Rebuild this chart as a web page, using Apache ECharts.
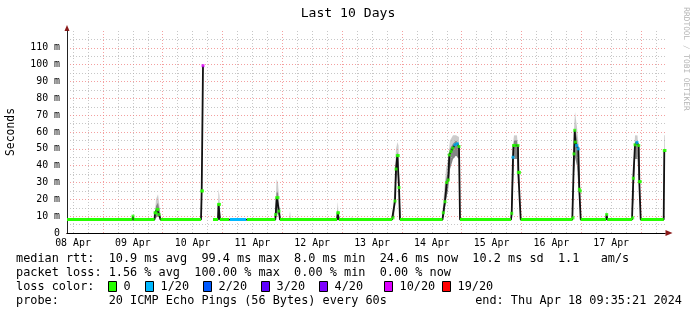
<!DOCTYPE html>
<html><head><meta charset="utf-8">
<script src="https://cdn.jsdelivr.net/npm/echarts@6/dist/echarts.min.js"></script>
<style>html,body{margin:0;padding:0;background:#fff}#c{width:697px;height:315px}</style>
</head><body><div id="c"></div>
<script>
// ---- data (time = hours since 08 Apr 2024 00:00) ----
const startHour = 9.589;   // 08 Apr 09:35:21
const endHour = 249.589;   // 18 Apr 09:35:21
const xTickHours = [12, 36, 60, 84, 108, 132, 156, 180, 204, 228];
const xTickLabels = ['08 Apr', '09 Apr', '10 Apr', '11 Apr', '12 Apr', '13 Apr', '14 Apr', '15 Apr', '16 Apr', '17 Apr'];
const yTickValues = [0, 10, 20, 30, 40, 50, 60, 70, 80, 90, 100, 110];
const yTickLabels = ['0', '10 m', '20 m', '30 m', '40 m', '50 m', '60 m', '70 m', '80 m', '90 m', '100 m', '110 m'];
const floorMs = 8.0;

const medianHours = [9.59, 35.88, 36.08, 36.28, 44.71, 44.91, 45.31, 45.71, 46.11, 46.51, 47.11,
  63.37, 63.65, 63.97, 64.17, 64.5, 68.18, 70.19, 70.39, 70.79, 70.99, 74.61, 75.01, 81.43, 81.83,
  93.19, 93.35, 93.75, 94.27, 94.67, 95.07, 117.95, 118.23, 118.55, 118.75,
  140.02, 140.43, 141.23, 141.63, 142.15, 142.55, 142.83, 143.24,
  160.29, 160.61, 161.30, 161.98, 162.62, 163.02, 163.70, 164.39, 165.31, 166.23, 166.91, 167.32,
  187.78, 188.07, 188.59, 188.79, 189.39, 190.59, 190.71, 191.20, 191.68,
  212.39, 212.67, 213.07, 213.35, 213.59, 214.15, 214.79, 215.20, 215.60, 215.76,
  225.91, 226.19, 226.43,
  236.35, 236.63, 236.87, 237.55, 238.35, 239.04, 239.28, 239.68, 239.84,
  249.07, 249.31, 249.59];
const medianMs = [8, 8, 10, 8, 8, 12, 12, 14, 14, 11, 8,
  8, 25, 25, 99.4, null, 8, 8, 17, 17, 8, 8, 8, 8, 8,
  8, 11, 21, 21, 13, 8, 8, 12, 12, 8,
  8, 9, 19, 38, 46, 46, 27, 8,
  8, 12, 18.6, 30, 31.5, 46.4, 48.4, 50.4, 52.4, 53, 51.4, 8,
  8, 11.7, 45, 52, 52, 52, 36, 36, 8,
  8, 9, 47, 61, 54, 52, 50, 26, 25, 8,
  8, 11, 8,
  8, 9, 32.5, 52.4, 53.8, 52, 30.5, 30.5, 8,
  8, 49, 49];
const medianLoss = [0, 0, 0, 0, 0, 0, 0, 0, 0, 0, 0,
  0, 0, 0, 10, 20, 0, 0, 0, 0, 0, 0, 1, 1, 0,
  0, 0, 0, 0, 0, 0, 0, 0, 0, 0,
  0, 0, 0, 0, 0, 0, 0, 0,
  0, 0, 0, 0, 0, 0, 0, 0, 1, 1, 0, 0,
  0, 0, 1, 0, 0, 0, 0, 0, 0,
  0, 0, 0, 0, 0, 1, 1, 0, 0, 0,
  0, 0, 0,
  0, 0, 0, 0, 1, 0, 0, 0, 0,
  0, 0, 0];

const smokeHours = [44.71, 45.31, 46.11, 46.91, 47.32, 69.99, 70.39, 70.79, 71.20,
  93.07, 93.67, 94.27, 94.87, 95.28, 98.69, 99.09, 99.49, 117.75, 118.23, 118.75,
  123.57, 123.97, 124.37, 140.02, 140.83, 141.63, 142.23, 142.63, 143.03, 143.44,
  160.09, 160.89, 161.70, 162.50, 163.30, 164.51, 165.71, 166.91, 167.44,
  187.78, 188.39, 188.99, 190.19, 190.99, 191.68,
  212.47, 213.07, 213.47, 214.27, 215.08, 215.76,
  225.71, 226.19, 226.51, 236.35, 236.95, 237.55, 238.55, 239.28, 239.84,
  248.99, 249.31, 249.59];
const smokeLow = [8, 9, 10, 9, 8, 8, 9, 10, 8,
  8, 10, 12, 9, 8, 8, 8, 8, 8, 9, 8,
  8, 8, 8, 8, 9, 30, 40, 35, 15, 8,
  8, 10, 20, 25, 38, 44, 46, 44, 8,
  8, 20, 44, 44, 30, 8,
  8, 35, 45, 40, 22, 8,
  8, 9, 8, 8, 20, 44, 44, 25, 8,
  8, 30, 30];
const smokeMid = [8, 16, 18, 12, 8, 8, 18, 17, 8,
  8, 24, 24, 13, 8, 8, 9, 8, 8, 14, 8,
  8, 9, 8, 8, 15, 42, 48, 46, 25, 8,
  8, 18, 32, 36, 50, 53, 55, 53, 8,
  8, 40, 55, 55, 40, 8,
  8, 55, 62, 56, 40, 8,
  8, 11, 8, 8, 32, 54, 55, 35, 8,
  8, 50, 50];
const smokeHigh = [8, 20, 23, 14, 8, 8, 26, 22, 8,
  8, 32, 30, 16, 8, 8, 13, 8, 8, 19, 8,
  8, 10, 8, 8, 22, 50, 54, 52, 32, 8,
  8, 24, 38, 44, 55, 58, 58, 57, 8,
  8, 50, 58, 58, 45, 8,
  8, 62, 72, 63, 50, 8,
  8, 14, 8, 8, 40, 58, 58, 42, 8,
  8, 58, 58];

const lossLevels = [0, 1, 2, 3, 4, 10, 19];
const lossLabels = ['0', '1/20', '2/20', '3/20', '4/20', '10/20', '19/20'];
const lossColors = ['#26ff00', '#00b8ff', '#0059ff', '#5e00ff', '#7e00ff', '#dd00ff', '#ff0000'];

const rttLine = 'median rtt:  10.9 ms avg  99.4 ms max  8.0 ms min  24.6 ms now  10.2 ms sd  1.1   am/s';
const lossLine = 'packet loss: 1.56 % avg  100.00 % max  0.00 % min  0.00 % now';
const probeLine = 'probe:       20 ICMP Echo Pings (56 Bytes) every 60s';
const endLine = 'end: Thu Apr 18 09:35:21 2024';

// ---- chart ----
const FONT = '"DejaVu Sans Mono", monospace';
const chart = echarts.init(document.getElementById('c'), null, {renderer: 'canvas'});

function lossColor(l) {
  let idx = 0;
  for (let k = 0; k < lossLevels.length; k++) if (l >= lossLevels[k]) idx = k;
  return lossColors[idx];
}

const minorHours = [], majorHours = [];
for (let h = 12; h < endHour; h += 6) { if (h % 24 === 0) majorHours.push(h); else minorHours.push(h); }

const GREY = 'rgba(175,175,175,0.7)';
const RED = 'rgba(240,120,120,0.7)';

const series = [];
// vertical grid lines
series.push({
  type: 'line', data: [], silent: true, z: 1,
  markLine: {
    silent: true, z: 1, symbol: ['none', 'none'], label: {show: false}, animation: false,
    lineStyle: {color: GREY, width: 1, type: [1, 2]},
    emphasis: {disabled: true},
    data: minorHours.map(h => ({xAxis: h}))
  }
});
series.push({
  type: 'line', data: [], silent: true, z: 1,
  markLine: {
    silent: true, z: 1, symbol: ['none', 'none'], label: {show: false}, animation: false,
    lineStyle: {color: RED, width: 1, type: [1, 2]},
    emphasis: {disabled: true},
    data: majorHours.map(h => ({xAxis: h}))
  }
});
// smoke bands, drawn segment by segment through the axis scales
function smokeBand(top, color) {
  const segs = [];
  for (let i = 0; i < smokeHours.length - 1; i++) {
    if (top[i] === smokeLow[i] && top[i + 1] === smokeLow[i + 1]) continue;
    segs.push([smokeHours[i], smokeLow[i], top[i], smokeHours[i + 1], smokeLow[i + 1], top[i + 1]]);
  }
  series.push({
    type: 'custom', z: 2, silent: true, clip: true,
    encode: {x: [0, 3], y: [1, 2, 4, 5]},
    renderItem: (params, api) => {
      const a = api.coord([api.value(0), api.value(1)]);
      const b = api.coord([api.value(0), api.value(2)]);
      const c = api.coord([api.value(3), api.value(5)]);
      const d = api.coord([api.value(3), api.value(4)]);
      return {type: 'polygon', shape: {points: [a, b, c, d]}, style: {fill: color, stroke: null}};
    },
    data: segs
  });
}
smokeBand(smokeHigh, 'rgba(0,0,0,0.2)');
smokeBand(smokeMid, 'rgba(0,0,0,0.35)');
// black median line
series.push({type: 'line', z: 3, silent: true, symbol: 'none',
  lineStyle: {color: '#111', width: 1.8},
  data: medianHours.map((h, i) => [h, medianMs[i]])});
// loss-coloured flat median segments
lossLevels.forEach((lvl, k) => {
  const d = medianHours.map((h, i) => (medianLoss[i] === lvl && medianMs[i] === floorMs) ? [h, floorMs] : [h, null]);
  if (d.some(p => p[1] !== null)) {
    series.push({type: 'line', z: 4, silent: true, symbol: 'none', lineStyle: {color: lossColors[k], width: 3}, data: d});
  }
});
// loss-coloured median marks on spikes
series.push({type: 'scatter', z: 5, silent: true, symbol: 'rect', symbolSize: [3, 3],
  data: medianHours.map((h, i) => ({i, h})).filter(o => medianMs[o.i] !== null && medianMs[o.i] !== floorMs)
    .map(o => ({value: [o.h, medianMs[o.i]], itemStyle: {color: lossColor(medianLoss[o.i])}}))});

// graphics (texts & legend)
const graphics = [];
graphics.push({type: 'text', x: 348, y: 13.5, style: {text: 'Last 10 Days', font: '13.1px ' + FONT, fill: '#000', align: 'center', verticalAlign: 'middle'}});
graphics.push({type: 'text', x: 11, y: 132, rotation: Math.PI / 2, style: {text: 'Seconds', font: '11.4px ' + FONT, fill: '#000', align: 'center', verticalAlign: 'middle'}});
graphics.push({type: 'text', x: 686, y: 59, rotation: -Math.PI / 2, style: {text: 'RRDTOOL / TOBI OETIKER', font: '7.8px ' + FONT, fill: '#b4b4b4', align: 'center', verticalAlign: 'middle'}});
const rowFont = '11.85px ' + FONT;
graphics.push({type: 'text', x: 16, y: 258.5, style: {text: rttLine, font: rowFont, fill: '#000', verticalAlign: 'middle'}});
graphics.push({type: 'text', x: 16, y: 272.5, style: {text: lossLine, font: rowFont, fill: '#000', verticalAlign: 'middle'}});
graphics.push({type: 'text', x: 16, y: 286.5, style: {text: 'loss color:', font: rowFont, fill: '#000', verticalAlign: 'middle'}});
graphics.push({type: 'text', x: 16, y: 300.5, style: {text: probeLine, font: rowFont, fill: '#000', verticalAlign: 'middle'}});
graphics.push({type: 'text', x: 682, y: 300.5, style: {text: endLine, font: rowFont, fill: '#000', align: 'right', verticalAlign: 'middle'}});
const boxX = [108.5, 145.5, 203.5, 261.5, 319.5, 384.5, 442.5];
lossLabels.forEach((lab, k) => {
  graphics.push({type: 'rect', shape: {x: boxX[k], y: 281.5, width: 8, height: 10}, style: {fill: lossColors[k], stroke: '#000', lineWidth: 1}});
  graphics.push({type: 'text', x: boxX[k] + 15, y: 286.5, style: {text: lab, font: rowFont, fill: '#000', verticalAlign: 'middle'}});
});

const option = {
  animation: false,
  backgroundColor: '#fff',
  grid: {left: 67, right: 32, top: 31, bottom: 82, outerBoundsMode: 'none', containLabel: false},
  xAxis: [{
    type: 'value', min: startHour, max: endHour, z: 3,
    axisLine: {show: true, onZero: false, lineStyle: {color: '#000', width: 1}},
    axisTick: {show: false},
    axisLabel: {customValues: xTickHours, margin: 5, color: '#000', fontFamily: FONT, fontSize: 9.9,
      formatter: v => xTickLabels[xTickHours.indexOf(v)] || ''},
    splitLine: {show: false}
  }, {
    type: 'value', min: startHour, max: endHour, position: 'bottom', z: 2,
    axisLine: {show: true, onZero: false, symbol: ['none', 'triangle'], symbolSize: [6, 7], symbolOffset: [0, 4],
      lineStyle: {color: '#8b1a1a', width: 1}},
    axisTick: {show: false}, axisLabel: {show: false}, splitLine: {show: false}
  }],
  yAxis: [{
    type: 'value', min: 0, max: 120, interval: 10, z: 3,
    axisLine: {show: true, onZero: false, lineStyle: {color: '#222', width: 1}},
    axisTick: {show: false},
    axisLabel: {margin: 7, color: '#000', fontFamily: FONT, fontSize: 9.9, showMaxLabel: false,
      formatter: v => { const i = yTickValues.indexOf(v); return i >= 0 ? yTickLabels[i] : ''; }},
    splitLine: {show: true, showMinLine: false, showMaxLine: false, lineStyle: {color: RED, width: 1, type: [1, 2]}},
    minorTick: {show: false, splitNumber: 2},
    minorSplitLine: {show: true, lineStyle: {color: GREY, width: 1, type: [1, 2]}}
  }, {
    type: 'value', min: 0, max: 120, position: 'left', z: 2,
    axisLine: {show: true, onZero: false, symbol: ['none', 'triangle'], symbolSize: [5, 6], symbolOffset: [0, 3],
      lineStyle: {color: '#8b1a1a', width: 1}},
    axisTick: {show: false}, axisLabel: {show: false}, splitLine: {show: false}
  }],
  series,
  graphic: graphics
};
chart.setOption(option);
</script>
</body></html>
